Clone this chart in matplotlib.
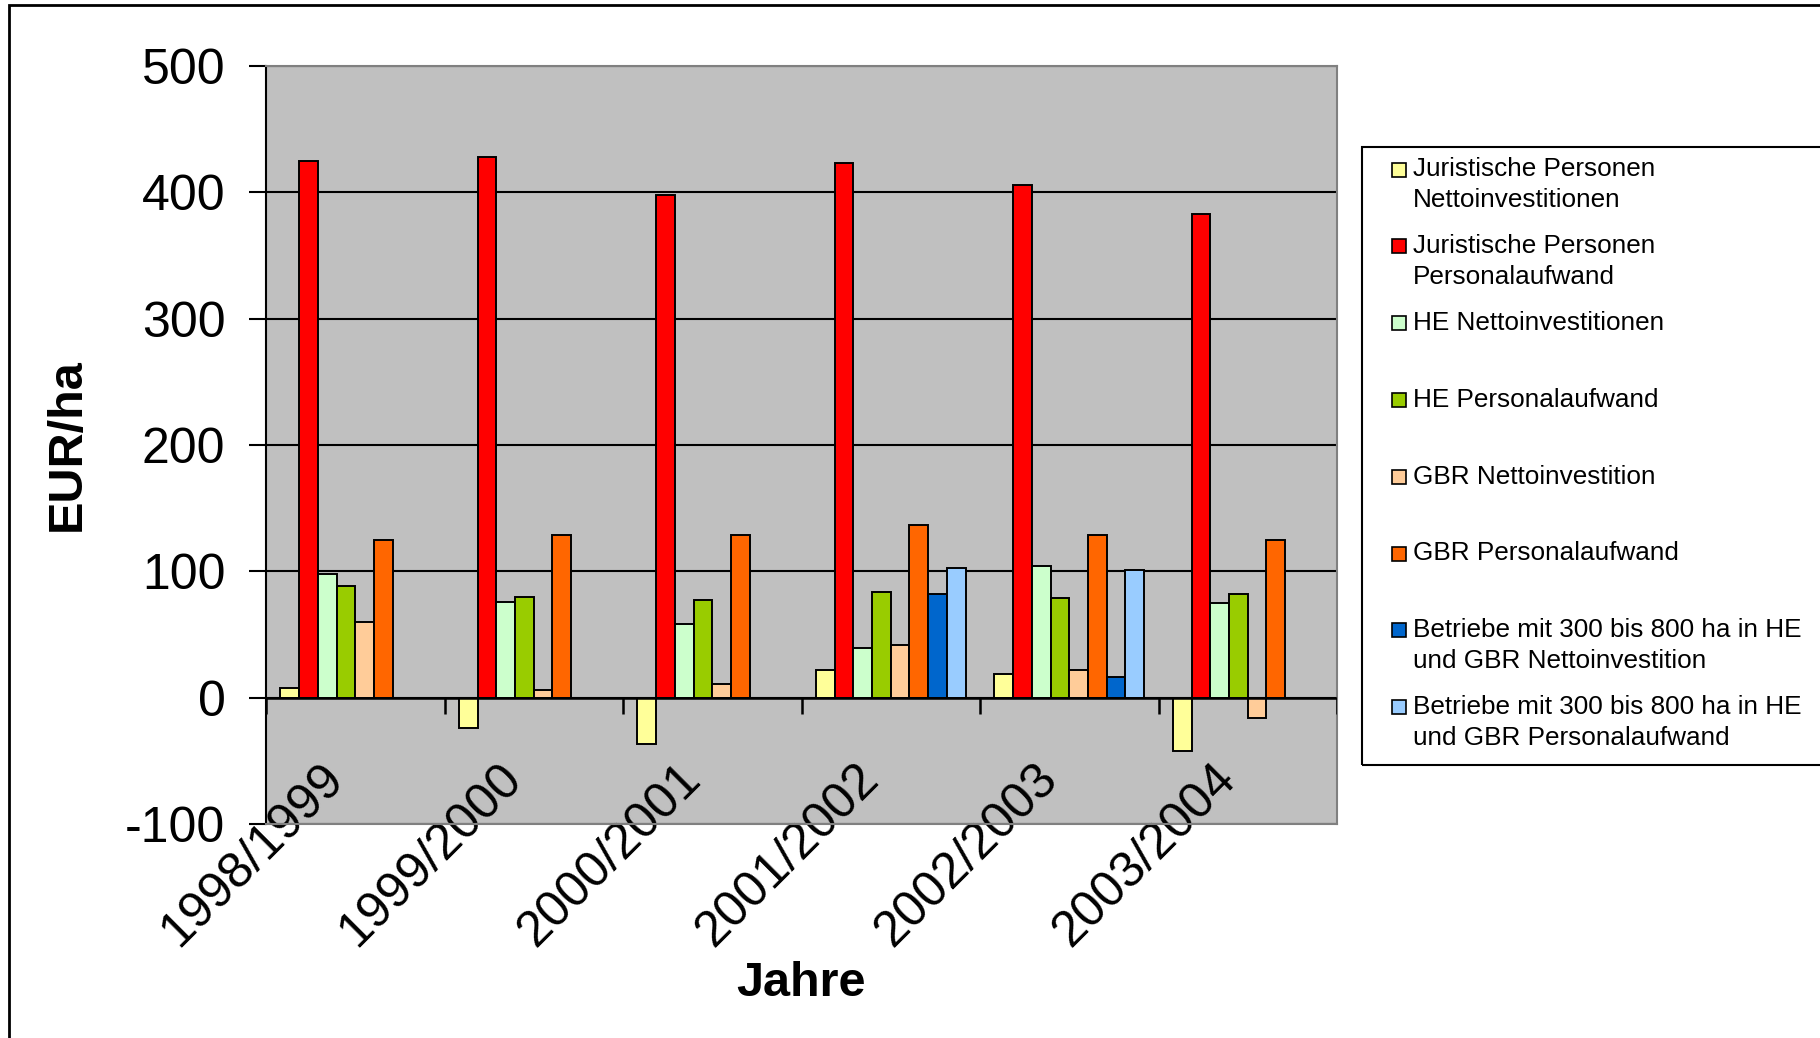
import matplotlib
matplotlib.use('Agg')
import matplotlib.pyplot as plt
import matplotlib.transforms as mtransforms
from matplotlib.patches import Rectangle
import numpy as np

plt.rcParams['font.family'] = ['Liberation Sans', 'DejaVu Sans']
plt.rcParams['axes.unicode_minus'] = False

years = ['1998/1999', '1999/2000', '2000/2001', '2001/2002', '2002/2003', '2003/2004']
nan = np.nan
jp_netto = [8, -24, -37, 22, 19, -42]
jp_personal = [425, 428, 398, 423, 406, 383]
he_netto = [98, 76, 58, 39, 104, 75]
he_personal = [88, 80, 77, 84, 79, 82]
gbr_netto = [60, 6, 11, 42, 22, -16]
gbr_personal = [125, 129, 129, 137, 129, 125]
b300_netto = [nan, nan, nan, 82, 16, nan]
b300_personal = [nan, nan, nan, 103, 101, nan]

series_names = ['Juristische Personen\nNettoinvestitionen',
                'Juristische Personen\nPersonalaufwand',
                'HE Nettoinvestitionen',
                'HE Personalaufwand',
                'GBR Nettoinvestition',
                'GBR Personalaufwand',
                'Betriebe mit 300 bis 800 ha in HE\nund GBR Nettoinvestition',
                'Betriebe mit 300 bis 800 ha in HE\nund GBR Personalaufwand']
series_values = [jp_netto, jp_personal, he_netto, he_personal,
                 gbr_netto, gbr_personal, b300_netto, b300_personal]
colors = ['#FFFF99', '#FF0000', '#CCFFCC', '#99CC00',
          '#FFCC99', '#FF6600', '#0066CC', '#99CCFF']

W, H = 1820, 1038
fig = plt.figure(figsize=(W / 100, H / 100), dpi=100)
ax = fig.add_axes([266 / W, 1 - 824 / H, (1337 - 266) / W, (824 - 66) / H])
ax.set_facecolor('#C0C0C0')

x = np.arange(len(years))
w = 0.105
for i, (vals, c) in enumerate(zip(series_values, colors)):
    ax.bar(x + (i - 3.5) * w, vals, width=w, color=c, edgecolor='black',
           linewidth=1.4, zorder=3)

ax.set_xlim(-0.5, len(years) - 0.5)
ax.set_ylim(-100, 500)
ax.set_yticks(range(-100, 501, 100))
ax.yaxis.grid(True, color='black', linewidth=1.5, zorder=1)
ax.set_axisbelow(True)

# zero line with category separators
ax.axhline(0, color='black', linewidth=1.8, zorder=4)
ax.vlines(np.arange(-0.5, len(years), 1.0), -12.6, 0, color='black',
          linewidth=1.8, zorder=4)

for s in ['top', 'right', 'bottom']:
    ax.spines[s].set_color('#808080')
    ax.spines[s].set_linewidth(1.5)
ax.spines['left'].set_color('black')
ax.spines['left'].set_linewidth(1.5)

ax.tick_params(axis='y', labelsize=36, length=12.2, width=1.5, pad=17, direction='out')
ax.set_xticks(x)
ax.set_xticklabels(years, fontsize=36, rotation=45, rotation_mode='anchor',
                   ha='right', va='center')
ax.tick_params(axis='x', length=0, pad=-38)
shift = mtransforms.ScaledTranslation(-19 / 100, 0, fig.dpi_scale_trans)
for lab in ax.get_xticklabels():
    lab.set_transform(lab.get_transform() + shift)

ax.set_ylabel('EUR/ha', fontsize=35, fontweight='bold', va='center')
ax.yaxis.set_label_coords((67 - 266) / (1337 - 266), 0.5)
ax.set_xlabel('Jahre', fontsize=35, fontweight='bold', va='center')
ax.xaxis.set_label_coords(0.5, (824 - 984) / (824 - 66))

# legend box
lx0, ly0, ly1 = 1361.5, 147.4, 765
fig.add_artist(Rectangle((lx0 / W, 1 - ly1 / H), 1.0, (ly1 - ly0) / H,
                         transform=fig.transFigure, fill=False,
                         edgecolor='black', linewidth=1.5))
for k, (name, c) in enumerate(zip(series_names, colors)):
    y_first = 169.5 + 76.8 * k
    fig.add_artist(Rectangle((1391.7 / W, 1 - (y_first + 7) / H), 14 / W, 14 / H,
                             transform=fig.transFigure, facecolor=c,
                             edgecolor='black', linewidth=1.2))
    for j, line in enumerate(name.split('\n')):
        fig.text(1412.6 / W, 1 - (y_first + 30.6 * j) / H, line,
                 fontsize=18.8, va='center', ha='left')

# outer chart border
fig.add_artist(Rectangle((9 / W, -0.5), 2.0, 0.5 + 1 - 5 / H,
                         transform=fig.transFigure, fill=False,
                         edgecolor='black', linewidth=2))

fig.savefig('out.png', dpi=100)
